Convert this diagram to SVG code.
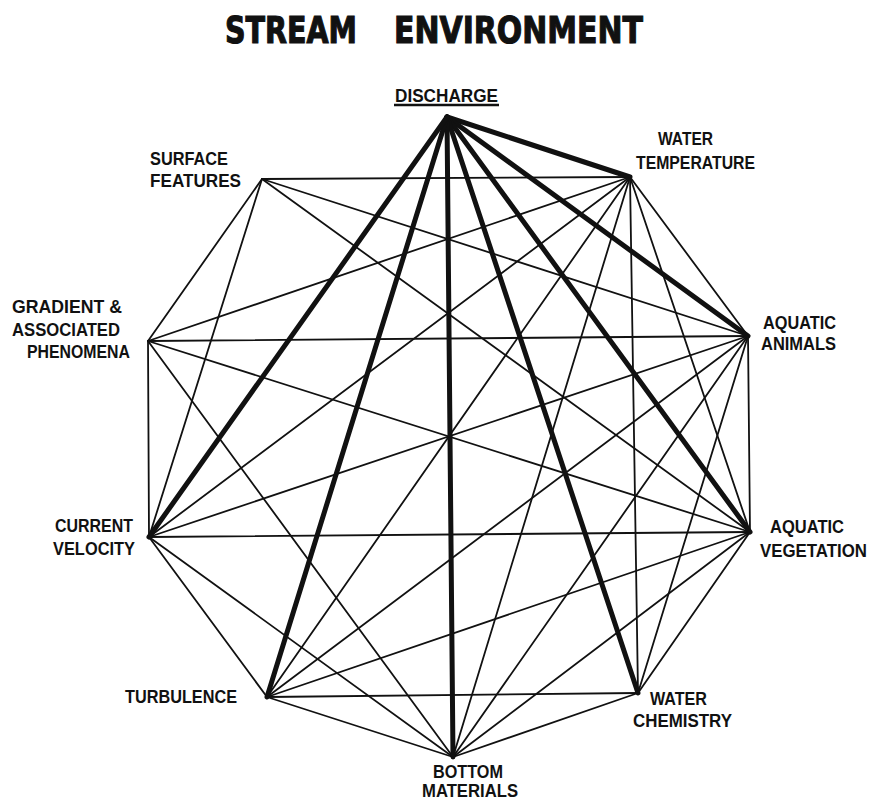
<svg xmlns="http://www.w3.org/2000/svg" width="871" height="802" viewBox="0 0 871 802">
<style>
.t{font-family:"Liberation Sans",Arial,sans-serif;font-size:17.5px;font-weight:bold;fill:#111}
.title{font-family:"DejaVu Sans","Liberation Sans",sans-serif;font-size:37px;font-weight:bold;fill:#111;stroke:#111;stroke-width:1.2}
.e{stroke:#111;stroke-width:1.8;stroke-linecap:round}
.d{stroke:#111;stroke-width:5;stroke-linecap:round}
</style>
<rect width="871" height="802" fill="#fff"/>
<g id="title">
<text class="title" x="225" y="43" textLength="132" lengthAdjust="spacingAndGlyphs">STREAM</text>
<text class="title" x="394" y="43" textLength="249" lengthAdjust="spacingAndGlyphs">ENVIRONMENT</text>
</g>
<g id="connectors">
<!-- Water Temperature (630,177) -->
<line class="e" x1="630" y1="177" x2="262" y2="179"/>
<line class="e" x1="630" y1="177" x2="148" y2="341"/>
<line class="e" x1="630" y1="177" x2="149" y2="537"/>
<line class="e" x1="630" y1="177" x2="267" y2="697"/>
<line class="e" x1="630" y1="177" x2="453" y2="757"/>
<line class="e" x1="630" y1="177" x2="638" y2="693"/>
<line class="e" x1="630" y1="177" x2="750" y2="532"/>
<line class="e" x1="630" y1="177" x2="748" y2="336"/>
<!-- Surface Features (262,179) -->
<line class="e" x1="262" y1="179" x2="148" y2="341"/>
<line class="e" x1="262" y1="179" x2="149" y2="537"/>
<line class="e" x1="262" y1="179" x2="750" y2="532"/>
<line class="e" x1="262" y1="179" x2="748" y2="336"/>
<!-- Gradient (148,341) -->
<line class="e" x1="148" y1="341" x2="149" y2="537"/>
<line class="e" x1="148" y1="341" x2="453" y2="757"/>
<line class="e" x1="148" y1="341" x2="750" y2="532"/>
<line class="e" x1="148" y1="341" x2="748" y2="336"/>
<!-- Current Velocity (149,537) -->
<line class="e" x1="149" y1="537" x2="267" y2="697"/>
<line class="e" x1="149" y1="537" x2="453" y2="757"/>
<line class="e" x1="149" y1="537" x2="750" y2="532"/>
<line class="e" x1="149" y1="537" x2="748" y2="336"/>
<!-- Turbulence (267,697) -->
<line class="e" x1="267" y1="697" x2="453" y2="757"/>
<line class="e" x1="267" y1="697" x2="638" y2="693"/>
<line class="e" x1="267" y1="697" x2="750" y2="532"/>
<line class="e" x1="267" y1="697" x2="748" y2="336"/>
<!-- Bottom Materials (453,757) -->
<line class="e" x1="453" y1="757" x2="638" y2="693"/>
<line class="e" x1="453" y1="757" x2="750" y2="532"/>
<line class="e" x1="453" y1="757" x2="748" y2="336"/>
<!-- Water Chemistry (638,693) -->
<line class="e" x1="638" y1="693" x2="750" y2="532"/>
<line class="e" x1="638" y1="693" x2="748" y2="336"/>
<!-- Aquatic Vegetation - Animals -->
<line class="e" x1="750" y1="532" x2="748" y2="336"/>
<!-- thick discharge edges -->
<line class="d" x1="447" y1="117" x2="630" y2="177"/>
<line class="d" x1="447" y1="117" x2="748" y2="336"/>
<line class="d" x1="447" y1="117" x2="750" y2="532"/>
<line class="d" x1="447" y1="117" x2="638" y2="693"/>
<line class="d" x1="447" y1="117" x2="453" y2="757"/>
<line class="d" x1="447" y1="117" x2="267" y2="697"/>
<line class="d" x1="447" y1="117" x2="149" y2="537"/>
</g>
<g id="discharge">
<text class="t" x="395" y="102" textLength="103" lengthAdjust="spacingAndGlyphs">DISCHARGE</text>
<line x1="394" y1="105" x2="499" y2="105" stroke="#111" stroke-width="2.5"/>
</g>
<g id="water-temperature">
<text class="t" x="658" y="145" textLength="55" lengthAdjust="spacingAndGlyphs">WATER</text>
<text class="t" x="636" y="169" textLength="119" lengthAdjust="spacingAndGlyphs">TEMPERATURE</text>
</g>
<g id="surface-features">
<text class="t" x="150" y="165" textLength="78" lengthAdjust="spacingAndGlyphs">SURFACE</text>
<text class="t" x="150" y="187" textLength="91" lengthAdjust="spacingAndGlyphs">FEATURES</text>
</g>
<g id="gradient">
<text class="t" x="12" y="313" textLength="110" lengthAdjust="spacingAndGlyphs">GRADIENT &amp;</text>
<text class="t" x="12" y="336" textLength="108" lengthAdjust="spacingAndGlyphs">ASSOCIATED</text>
<text class="t" x="27" y="358" textLength="103" lengthAdjust="spacingAndGlyphs">PHENOMENA</text>
</g>
<g id="current-velocity">
<text class="t" x="55" y="532" textLength="78" lengthAdjust="spacingAndGlyphs">CURRENT</text>
<text class="t" x="53" y="555" textLength="82" lengthAdjust="spacingAndGlyphs">VELOCITY</text>
</g>
<g id="aquatic-animals">
<text class="t" x="763" y="329" textLength="73" lengthAdjust="spacingAndGlyphs">AQUATIC</text>
<text class="t" x="761" y="350" textLength="75" lengthAdjust="spacingAndGlyphs">ANIMALS</text>
</g>
<g id="aquatic-vegetation">
<text class="t" x="770" y="533" textLength="74" lengthAdjust="spacingAndGlyphs">AQUATIC</text>
<text class="t" x="760" y="557" textLength="107" lengthAdjust="spacingAndGlyphs">VEGETATION</text>
</g>
<g id="turbulence">
<text class="t" x="125" y="703" textLength="112" lengthAdjust="spacingAndGlyphs">TURBULENCE</text>
</g>
<g id="bottom-materials">
<text class="t" x="433" y="778" textLength="70" lengthAdjust="spacingAndGlyphs">BOTTOM</text>
<text class="t" x="422" y="797" textLength="96" lengthAdjust="spacingAndGlyphs">MATERIALS</text>
</g>
<g id="water-chemistry">
<text class="t" x="650" y="705" textLength="57" lengthAdjust="spacingAndGlyphs">WATER</text>
<text class="t" x="633" y="727" textLength="99" lengthAdjust="spacingAndGlyphs">CHEMISTRY</text>
</g>
</svg>
